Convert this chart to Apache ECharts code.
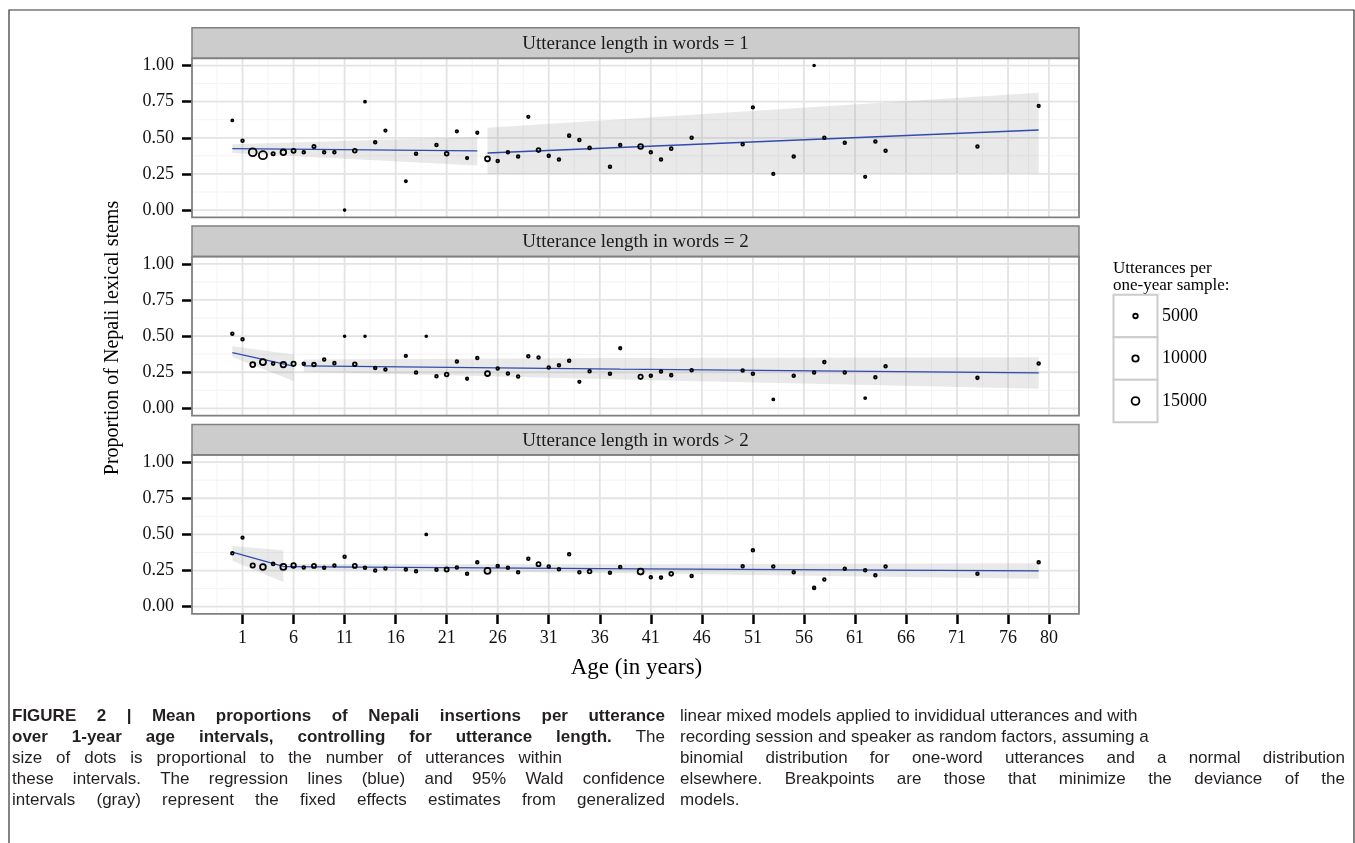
<!DOCTYPE html>
<html><head><meta charset="utf-8">
<script src="https://cdn.jsdelivr.net/npm/echarts@6/dist/echarts.min.js"></script>
<style>html,body{margin:0;padding:0;background:#fff}#c{width:1355px;height:843px}</style>
</head><body><div id="c"></div><script>
// ---------------- DATA ----------------
const panelTitles = ['Utterance length in words = 1', 'Utterance length in words = 2', 'Utterance length in words > 2'];
const xTickValues = [1, 6, 11, 16, 21, 26, 31, 36, 41, 46, 51, 56, 61, 66, 71, 76, 80];
const xMinorValues = [-1.5, 3.5, 8.5, 13.5, 18.5, 23.5, 28.5, 33.5, 38.5, 43.5, 48.5, 53.5, 58.5, 63.5, 68.5, 73.5, 78, 82.5];
const yTickValues = [0, 0.25, 0.5, 0.75, 1];
const yMinorValues = [0.125, 0.375, 0.625, 0.875];
const legendCounts = [5000, 10000, 15000];

// panel 1: length = 1
const ages1 = [0,1,2,3,4,5,6,7,8,9,10,11,12,13,14,15,17,18,20,21,22,23,24,25,26,27,28,29,30,31,32,33,34,35,37,38,40,41,42,43,45,50,51,53,55,57,58,60,62,63,64,73,79];
const prop1 = [0.62,0.48,0.40,0.38,0.39,0.40,0.41,0.40,0.44,0.40,0.40,0.00,0.41,0.75,0.47,0.55,0.20,0.39,0.45,0.39,0.545,0.36,0.535,0.355,0.34,0.40,0.37,0.645,0.415,0.375,0.35,0.515,0.485,0.43,0.30,0.45,0.44,0.40,0.35,0.425,0.50,0.455,0.71,0.25,0.37,1.00,0.50,0.465,0.23,0.475,0.41,0.44,0.72];
const count1 = [1000,1800,15000,16000,2500,7500,4000,1800,2500,1800,1800,800,3500,1000,1800,1500,1200,1800,1800,3500,1500,1500,1500,6000,1800,1800,1800,1500,3500,1800,1800,1800,1800,2000,1800,1800,5500,1800,1800,2000,1800,1800,1500,1500,1800,800,1800,1800,1500,1800,1800,1800,1500];

// panel 2: length = 2
const ages2 = [0,1,2,3,4,5,6,7,8,9,10,11,12,13,14,15,17,18,19,20,21,22,23,24,25,26,27,28,29,30,31,32,33,34,35,37,38,40,41,42,43,45,50,51,53,55,57,58,60,62,63,64,73,79];
const prop2 = [0.517,0.478,0.303,0.320,0.310,0.303,0.308,0.308,0.303,0.338,0.313,0.499,0.306,0.499,0.280,0.269,0.363,0.248,0.499,0.223,0.234,0.324,0.205,0.349,0.241,0.276,0.241,0.221,0.361,0.352,0.283,0.299,0.329,0.184,0.257,0.239,0.416,0.218,0.225,0.255,0.230,0.264,0.262,0.239,0.062,0.225,0.248,0.320,0.248,0.071,0.216,0.292,0.211,0.310];
const count2 = [1800,1800,6000,9000,2000,7500,4500,1800,3300,1800,1800,800,3300,800,1800,1800,1500,1800,800,1800,3300,1800,1500,1800,6000,1800,1800,1800,1800,1800,1800,1800,1800,1500,1800,1800,1500,4500,1800,1800,1800,1800,1800,1800,1000,1800,1800,1800,1800,1000,1800,1800,1800,1800];

// panel 3: length > 2
const ages3 = [0,1,2,3,4,5,6,7,8,9,10,11,12,13,14,15,17,18,19,20,21,22,23,24,25,26,27,28,29,30,31,32,33,34,35,37,38,40,41,42,43,45,50,51,53,55,57,58,60,62,63,64,73,79];
const prop3 = [0.370,0.477,0.285,0.275,0.296,0.275,0.285,0.271,0.282,0.269,0.285,0.345,0.282,0.269,0.250,0.264,0.257,0.245,0.500,0.255,0.257,0.271,0.227,0.308,0.248,0.282,0.269,0.238,0.331,0.294,0.278,0.259,0.363,0.238,0.243,0.234,0.275,0.243,0.204,0.201,0.227,0.213,0.280,0.391,0.278,0.238,0.130,0.1875,0.262,0.252,0.218,0.278,0.227,0.308];
const count3 = [1800,1500,4500,8000,2000,8500,5000,1800,4000,1800,1800,1800,4000,1800,1800,1800,1800,1800,1000,1800,4000,1800,1800,1800,9000,1800,1800,1800,1800,4000,1800,1800,1800,1800,3500,1800,1800,8500,1800,1800,3500,1800,1800,1800,1800,1800,1800,1800,1800,1800,1800,1800,1800,1800];

// regression fits (segments before / after breakpoint)
const fit1aAge = [0, 24],  fit1aEst = [0.425, 0.409], fit1aLow = [0.395, 0.308], fit1aHigh = [0.455, 0.506];
const fit1bAge = [25, 79], fit1bEst = [0.395, 0.554], fit1bLow = [0.248, 0.255], fit1bHigh = [0.570, 0.811];
const fit2aAge = [0, 6],   fit2aEst = [0.386, 0.292], fit2aLow = [0.356, 0.189], fit2aHigh = [0.430, 0.372];
const fit2bAge = [7, 38, 79], fit2bEst = [0.294, 0.272, 0.246], fit2bLow = [0.253, 0.200, 0.136], fit2bHigh = [0.338, 0.348, 0.354];
const fit3aAge = [0, 5],   fit3aEst = [0.377, 0.278], fit3aLow = [0.317, 0.171], fit3aHigh = [0.419, 0.391];
const fit3bAge = [5, 40, 79], fit3bEst = [0.277, 0.262, 0.248], fit3bLow = [0.257, 0.229, 0.194], fit3bHigh = [0.295, 0.294, 0.301];

// caption text
const captionLeft = [
  {parts: [['FIGURE 2 | Mean proportions of Nepali insertions per utterance', true]], right: 665},
  {parts: [['over 1-year age intervals, controlling for utterance length.', true], ['The', false]], right: 665},
  {parts: [['size of dots is proportional to the number of utterances within', false]], right: 562},
  {parts: [['these intervals. The regression lines (blue) and 95% Wald confidence', false]], right: 665},
  {parts: [['intervals (gray) represent the fixed effects estimates from generalized', false]], right: 665}
];
const captionRight = [
  {parts: [['linear mixed models applied to invididual utterances and with', false]], right: 1135},
  {parts: [['recording session and speaker as random factors, assuming a', false]], right: 1142},
  {parts: [['binomial distribution for one-word utterances and a normal distribution', false]], right: 1345},
  {parts: [['elsewhere. Breakpoints are those that minimize the deviance of the', false]], right: 1345},
  {parts: [['models.', false]], right: null}
];

// ---------------- LAYOUT / STYLE ----------------
const X_MIN = -3.95, X_MAX = 82.95, Y_MIN = -0.05, Y_MAX = 1.05;
const GL = 192, GW = 887, PH = 159, SH = 30.5;
const plotTops = [58.3, 256.6, 454.9];
const SERIF = 'Liberation Serif';
const CAPFAM = '"Liberation Sans Narrow", "Liberation Sans", sans-serif';
const sz = n => 0.064 * Math.sqrt(n);
const BW = 1.8;

const panels = [
  {ages: ages1, prop: prop1, cnt: count1, fits: [[fit1aAge, fit1aEst, fit1aLow, fit1aHigh], [fit1bAge, fit1bEst, fit1bLow, fit1bHigh]]},
  {ages: ages2, prop: prop2, cnt: count2, fits: [[fit2aAge, fit2aEst, fit2aLow, fit2aHigh], [fit2bAge, fit2bEst, fit2bLow, fit2bHigh]]},
  {ages: ages3, prop: prop3, cnt: count3, fits: [[fit3aAge, fit3aEst, fit3aLow, fit3aHigh], [fit3bAge, fit3bEst, fit3bLow, fit3bHigh]]}
];

const grids = [], xAxes = [], yAxes = [], series = [], graphics = [];

function vLines(gi, vals, color, width, z) {
  return {type: 'custom', xAxisIndex: gi, yAxisIndex: gi, silent: true, z: z, clip: true,
    data: vals.map(v => [v, 0]),
    renderItem: (p, api) => {
      const a = api.coord([api.value(0), Y_MIN]), b = api.coord([api.value(0), Y_MAX]);
      return {type: 'line', shape: {x1: a[0], y1: a[1], x2: b[0], y2: b[1]}, style: {stroke: color, lineWidth: width}};
    }};
}
function hLines(gi, vals, color, width, z) {
  return {type: 'custom', xAxisIndex: gi, yAxisIndex: gi, silent: true, z: z, clip: true,
    data: vals.map(v => [0, v]),
    renderItem: (p, api) => {
      const a = api.coord([X_MIN, api.value(1)]), b = api.coord([X_MAX, api.value(1)]);
      return {type: 'line', shape: {x1: a[0], y1: a[1], x2: b[0], y2: b[1]}, style: {stroke: color, lineWidth: width}};
    }};
}
function ribbon(gi, ages, lo, hi) {
  return {type: 'custom', xAxisIndex: gi, yAxisIndex: gi, silent: true, z: 3,
    data: [[ages[0], lo[0]]],
    renderItem: (p, api) => {
      const pts = [];
      for (let k = 0; k < ages.length; k++) pts.push(api.coord([ages[k], hi[k]]));
      for (let k = ages.length - 1; k >= 0; k--) pts.push(api.coord([ages[k], lo[k]]));
      return {type: 'polygon', shape: {points: pts}, style: {fill: 'rgba(153,153,153,0.22)'}};
    }};
}

panels.forEach((pn, gi) => {
  const last = gi === 2;
  grids.push({left: GL, top: plotTops[gi], width: GW, height: PH, show: true, backgroundColor: '#fff', borderWidth: 0});
  xAxes.push({gridIndex: gi, type: 'value', min: X_MIN, max: X_MAX, position: 'bottom',
    axisLine: {show: false, onZero: false}, splitLine: {show: false},
    axisTick: {show: last, customValues: xTickValues, length: 10, lineStyle: {color: '#000', width: 2.5}},
    axisLabel: {show: last, customValues: xTickValues, margin: 15, fontFamily: SERIF, fontSize: 18, color: '#111'}});
  yAxes.push({gridIndex: gi, type: 'value', min: Y_MIN, max: Y_MAX, position: 'left',
    axisLine: {show: false, onZero: false}, splitLine: {show: false},
    axisTick: {show: true, customValues: yTickValues, length: 10, lineStyle: {color: '#000', width: 2.5}},
    axisLabel: {customValues: yTickValues, formatter: v => v.toFixed(2), margin: 18, fontFamily: SERIF, fontSize: 18, color: '#111'}});
  series.push(vLines(gi, xMinorValues, '#f3f3f3', 1, 1));
  series.push(hLines(gi, yMinorValues, '#f3f3f3', 1, 1));
  series.push(vLines(gi, xTickValues, '#e3e3e3', 1.8, 1));
  series.push(hLines(gi, yTickValues, '#e3e3e3', 1.8, 1));
  pn.fits.forEach(f => {
    series.push(ribbon(gi, f[0], f[2], f[3]));
    series.push({type: 'line', xAxisIndex: gi, yAxisIndex: gi, silent: true, z: 4, symbol: 'none',
      data: f[0].map((a, k) => [a, f[1][k]]), lineStyle: {color: '#2f4cad', width: 1.3}});
  });
  series.push({type: 'scatter', xAxisIndex: gi, yAxisIndex: gi, silent: true, z: 5,
    data: pn.ages.map((a, k) => [a, pn.prop[k], pn.cnt[k]]),
    symbol: 'circle', symbolSize: v => sz(v[2]),
    itemStyle: {color: 'rgba(0,0,0,0)', borderColor: '#000', borderWidth: BW, opacity: 1}});
  // strip
  graphics.push({type: 'rect', shape: {x: GL, y: plotTops[gi] - SH, width: GW, height: SH}, style: {fill: '#cccccc', stroke: '#808080', lineWidth: 1.5}, z: 10});
  graphics.push({type: 'text', x: GL + GW / 2, y: plotTops[gi] - SH / 2 + 1, style: {text: panelTitles[gi], font: '19px "' + SERIF + '"', fill: '#1a1a1a', textAlign: 'center', textVerticalAlign: 'middle'}, z: 11});
  // panel border
  graphics.push({type: 'rect', shape: {x: GL, y: plotTops[gi], width: GW, height: PH}, style: {fill: 'none', stroke: '#808080', lineWidth: 1.8}, z: 10});
});

// outer frame
graphics.push({type: 'rect', shape: {x: 9, y: 10, width: 1345, height: 900}, style: {fill: 'none', stroke: '#333', lineWidth: 1.2}, z: 0});
// axis titles
graphics.push({type: 'text', x: GL + GW / 2 + 1, y: 668, style: {text: 'Age (in years)', font: '23px "' + SERIF + '"', fill: '#000', textAlign: 'center', textVerticalAlign: 'middle'}});
graphics.push({type: 'text', x: 113, y: 338, rotation: Math.PI / 2, style: {text: 'Proportion of Nepali lexical stems', font: '20px "' + SERIF + '"', fill: '#000', textAlign: 'center', textVerticalAlign: 'middle'}});
// legend
graphics.push({type: 'text', x: 1113, y: 269, style: {text: 'Utterances per', font: '17px "' + SERIF + '"', fill: '#000', textAlign: 'left', textVerticalAlign: 'middle'}});
graphics.push({type: 'text', x: 1113, y: 286, style: {text: 'one-year sample:', font: '17px "' + SERIF + '"', fill: '#000', textAlign: 'left', textVerticalAlign: 'middle'}});
legendCounts.forEach((n, k) => {
  const cy = 316 + k * 42.5;
  graphics.push({type: 'rect', shape: {x: 1113.5, y: cy - 21.25, width: 44, height: 42.5}, style: {fill: '#fff', stroke: '#cccccc', lineWidth: 2}});
  graphics.push({type: 'circle', shape: {cx: 1135.5, cy: cy, r: sz(n) / 2}, style: {fill: 'none', stroke: '#000', lineWidth: BW}});
  graphics.push({type: 'text', x: 1162, y: cy, style: {text: String(n), font: '18px "' + SERIF + '"', fill: '#000', textAlign: 'left', textVerticalAlign: 'middle'}});
});
// caption (justified where the line is full)
const mctx = document.createElement('canvas').getContext('2d');
function capFont(b) { return (b ? 'bold ' : '') + '17px ' + CAPFAM; }
function addCaption(lines, x0) {
  lines.forEach((ln, li) => {
    const y = 716 + li * 21;
    const words = [];
    ln.parts.forEach(p => p[0].split(' ').forEach(w => words.push([w, p[1]])));
    const widths = words.map(w => { mctx.font = capFont(w[1]); return mctx.measureText(w[0]).width; });
    const total = widths.reduce((a, b) => a + b, 0);
    mctx.font = capFont(false);
    const space = mctx.measureText(' ').width;
    let gap = space;
    if (ln.right && words.length > 1) gap = Math.max(space, (ln.right - x0 - total) / (words.length - 1));
    let x = x0;
    words.forEach((w, k) => {
      graphics.push({type: 'text', x: x, y: y, style: {text: w[0], font: capFont(w[1]), fill: '#231f20', textAlign: 'left', textVerticalAlign: 'middle'}});
      x += widths[k] + gap;
    });
  });
}
addCaption(captionLeft, 12);
addCaption(captionRight, 680);

const chart = echarts.init(document.getElementById('c'), null, {renderer: 'canvas'});
chart.setOption({
  animation: false,
  backgroundColor: '#fff',
  grid: grids, xAxis: xAxes, yAxis: yAxes, series: series, graphic: graphics
});
</script></body></html>
